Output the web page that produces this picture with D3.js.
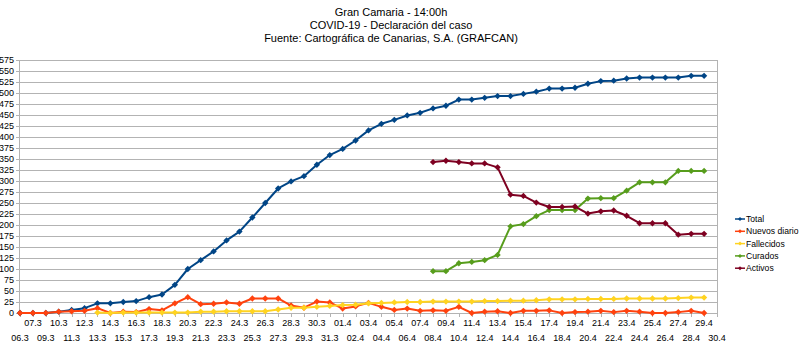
<!DOCTYPE html>
<html>
<head>
<meta charset="utf-8">
<script src="https://cdn.jsdelivr.net/npm/d3@7"></script>
<style>
  body { margin: 0; background: #fff; }
  svg { display: block; font-family: "Liberation Sans", Arial, sans-serif; }
  .grid line { stroke: #b3b3b3; stroke-width: 1; }
  .lab { fill: #000; font-size: 9px; }
  .leg { fill: #000; font-size: 8.6px; }
  .title { fill: #000; font-size: 11px; text-anchor: middle; }
</style>
</head>
<body>
<div id="plot"></div>
<script>
const dates = ["06.3","07.3","09.3","10.3","11.3","12.3","13.3","14.3","15.3","16.3","17.3","18.3","19.3","20.3",
  "21.3","22.3","23.3","24.3","25.3","26.3","27.3","28.3","29.3","30.3","31.3","01.4","02.4","03.4",
  "04.4","05.4","06.4","07.4","08.4","09.4","10.4","11.4","12.4","13.4","14.4","15.4","16.4",
  "17.4","18.4","19.4","20.4","21.4","22.4","23.4","24.4","25.4","26.4","27.4","28.4","29.4","30.4"]

const total = [0,0,0,3,7,11,22,22,25,27,36,42,64,100,
  120,140,165,185,217,250,283,299,311,337,359,373,392,415,
  430,439,449,455,465,471,485,485,489,493,493,498,503,
  510,510,512,521,527,528,533,535,535,535,535,539,539,null]

const nuevos = [0,0,0,3,4,5,11,0,3,2,9,6,22,36,
  20,21,24,21,33,33,33,17,12,26,24,10,15,23,
  14,7,10,5,6,5,14,0,3,4,0,5,5,
  6,0,2,3,5,2,5,3,0,0,2,5,0,null]

const fallecidos = [null,null,null,null,null,null,1,0,1,1,1,1,1,1,
  3,3,4,4,4,4,8,12,12,14,16,18,19,22,
  23,24,25,25,26,26,26,26,27,27,28,28,29,
  31,31,31,32,32,32,33,33,33,33,34,35,35,null]

const curados = [null,null,null,null,null,null,null,null,null,null,null,null,null,null,
  null,null,null,null,null,null,null,null,null,null,null,null,null,null,
  null,null,null,null,95,95,113,116,120,132,197,202,220,
  234,234,234,260,261,261,278,297,297,297,323,323,323,null]

const activos = [null,null,null,null,null,null,null,null,null,null,null,null,null,null,
  null,null,null,null,null,null,null,null,null,null,null,null,null,null,
  null,null,null,null,343,346,343,340,340,331,269,266,251,
  241,241,242,226,231,233,221,204,204,204,178,180,180,null]

const seriesNames = ["Total", "Nuevos diario", "Fallecidos", "Curados", "Activos"],
      seriesData = [total, nuevos, fallecidos, curados, activos],
      colors = ["#004586", "#ff420e", "#ffd320", "#579d1c", "#7e0021"],
      yTicks = d3.range(0, 576, 25),
      titles = ["Gran Camaria - 14:00h", "COVID-19 - Declaración del caso", "Fuente: Cartográfica de Canarias, S.A. (GRAFCAN)"]

const w = 800, h = 351,
      x = d3.scalePoint().domain(dates).range([20, 717]),
      y = d3.scaleLinear().domain([0, 575]).range([313, 60])

const svg = d3.select("#plot").append("svg")
  .attr("width", w)
  .attr("height", h)

// titles
svg.selectAll(".title")
  .data(titles)
  .enter().append("text")
  .attr("class", "title")
  .attr("x", 391)
  .attr("y", (d, i) => 16 + i * 13)
  .text(d => d)

// grid + y ticks
const grid = svg.append("g").attr("class", "grid")
grid.selectAll("line.h")
  .data(yTicks)
  .enter().append("line")
  .attr("x1", 16).attr("x2", 717)
  .attr("y1", d => Math.round(y(d)) + 0.5)
  .attr("y2", d => Math.round(y(d)) + 0.5)

grid.append("line")
  .attr("x1", 19.5).attr("x2", 19.5)
  .attr("y1", y(575)).attr("y2", y(0) + 3)
grid.append("line")
  .attr("x1", 717.5).attr("x2", 717.5)
  .attr("y1", y(575)).attr("y2", y(0) + 3)

grid.selectAll("line.t")
  .data(dates)
  .enter().append("line")
  .attr("x1", d => Math.round(x(d)) + 0.5)
  .attr("x2", d => Math.round(x(d)) + 0.5)
  .attr("y1", y(0)).attr("y2", y(0) + 4)

svg.selectAll(".ylab")
  .data(yTicks)
  .enter().append("text")
  .attr("class", "lab")
  .attr("x", 14)
  .attr("y", d => y(d))
  .attr("dy", "0.35em")
  .style("text-anchor", "end")
  .text(d => d)

// x labels in two rows
svg.selectAll(".xlab")
  .data(dates)
  .enter().append("text")
  .attr("class", "lab")
  .attr("x", d => x(d))
  .attr("y", (d, i) => i % 2 ? 326 : 341)
  .style("text-anchor", "middle")
  .text(d => d)

const diamond = d3.symbol().type(d3.symbolSquare).size(20)

seriesData.forEach((vals, s) => {
  const pts = dates.map((d, i) => ({d: d, v: vals[i]}))
  const g = svg.append("g")
  g.append("path")
    .datum(pts)
    .attr("fill", "none")
    .attr("stroke", colors[s])
    .attr("stroke-width", 2)
    .attr("stroke-linejoin", "round")
    .attr("d", d3.line()
      .defined(p => p.v !== null)
      .x(p => x(p.d))
      .y(p => y(p.v)))
  g.selectAll("path.m")
    .data(pts.filter(p => p.v !== null))
    .enter().append("path")
    .attr("fill", colors[s])
    .attr("d", diamond)
    .attr("transform", p => `translate(${x(p.d)},${y(p.v)}) rotate(45)`)
})

// legend
const legend = svg.append("g")
seriesNames.forEach((name, s) => {
  const ly = 219 + s * 12.3
  legend.append("line")
    .attr("x1", 735).attr("x2", 745)
    .attr("y1", ly).attr("y2", ly)
    .attr("stroke", colors[s])
    .attr("stroke-width", 1.5)
  legend.append("path")
    .attr("fill", colors[s])
    .attr("d", d3.symbol().type(d3.symbolSquare).size(8))
    .attr("transform", `translate(740,${ly}) rotate(45)`)
  legend.append("text")
    .attr("class", "leg")
    .attr("x", 746)
    .attr("y", ly)
    .attr("dy", "0.35em")
    .text(name)
})
</script>
</body>
</html>
